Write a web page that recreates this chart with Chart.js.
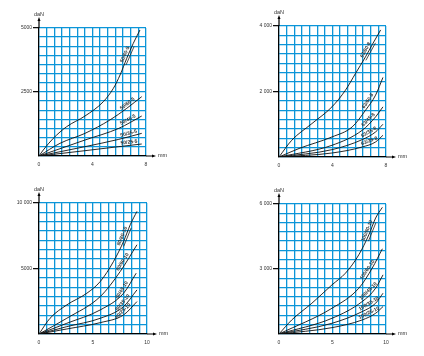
<!DOCTYPE html>
<html>
<head>
<meta charset="utf-8">
<script src="https://cdn.jsdelivr.net/npm/chart.js@4.4.0/dist/chart.umd.min.js"></script>
<style>
  body { margin: 0; background: #fff; width: 424px; height: 356px; overflow: hidden; position: relative; }
  canvas { position: absolute; }
</style>
</head>
<body>
<canvas id="c1" width="212" height="178" style="left:0;top:0"></canvas>
<canvas id="c2" width="212" height="178" style="left:212px;top:0"></canvas>
<canvas id="c3" width="212" height="178" style="left:0;top:178px"></canvas>
<canvas id="c4" width="212" height="178" style="left:212px;top:178px"></canvas>
<script>
// top-left panel (mm / daN)
const xTicks1 = ['0', '4', '8'];
const yTicks1 = ['2500', '5000'];
const labels1 = ['50/80-5', '50/60-5', '50/45-5', '50/35-5', '50/25-5'];
const tl1 = [[0,0],[0.32,234],[1.07,690],[2.07,1146],[3.44,1562],[4.81,2122],[5.56,2643],[6.06,3164],[6.56,3815],[7.05,4401],[7.55,4922]];
const tl2 = [[0,0],[1.57,495],[3.44,885],[5.3,1406],[6.56,1862],[7.68,2318]];
const tl3 = [[0,0],[3.44,625],[5.97,1081],[7.68,1562]];
const tl4 = [[0,0],[3.44,365],[5.97,651],[7.68,885]];
const tl5 = [[0,0],[3.44,208],[5.97,365],[7.68,469]];

// top-right panel
const xTicks2 = ['0', '4', '8'];
const yTicks2 = ['2 000', '4 000'];
const labels2 = ['63/80-8', '63/60-8', '63/45-8', '63/35-8', '63/25-8'];
const tr1 = [[0,0],[0.95,510],[2.46,1020],[3.96,1531],[4.97,2041],[5.72,2551],[6.47,3060],[6.97,3430],[7.6,3880]];
const tr2 = [[0,0],[1.5,260],[3.96,612],[5.47,918],[6.47,1429],[7.22,1888],[7.77,2429]];
const tr3 = [[0,0],[3.96,357],[6.22,816],[7.22,1224],[7.77,1531]];
const tr4 = [[0,0],[3.96,224],[6.22,531],[7.22,765],[7.77,1000]];
const tr5 = [[0,0],[3.96,122],[6.22,306],[7.22,459],[7.77,663]];

// bottom-left panel
const xTicks3 = ['0', '5', '10'];
const yTicks3 = ['5000', '10 000'];
const labels3 = ['80/80-10', '80/60-10', '80/45-10', '80/35-10', '80/25-10'];
const bl1 = [[0,0],[1.02,1199],[2.57,2219],[4.43,3112],[5.67,4005],[6.9,5536],[7.83,7066],[8.45,8342],[9.07,9362]];
const bl2 = [[0,0],[2.57,1199],[5.67,2857],[7.52,4770],[9.07,6811]];
const bl3 = [[0,0],[2.57,816],[5.67,1837],[7.83,3112],[9.0,4643]];
const bl4 = [[0,0],[2.57,561],[5.67,1199],[7.83,2092],[9.07,3367]];
const bl5 = [[0,0],[2.57,383],[5.67,867],[7.83,1454],[9.07,2474]];

// bottom-right panel
const xTicks4 = ['0', '5', '10'];
const yTicks4 = ['3 000', '6 000'];
const labels4 = ['100/80-10', '100/60-10', '100/45-10', '100/35-10', '100/25-10'];
const br1 = [[0,0],[1.19,648],[3.07,1419],[4.95,2267],[6.21,2807],[7.46,3656],[8.4,4581],[9.03,5352],[9.66,5846]];
const br2 = [[0,0],[4.95,1188],[7.46,2113],[8.71,3039],[9.66,3933]];
const br3 = [[0,0],[4.95,725],[7.77,1496],[9.03,2113],[9.72,2730]];
const br4 = [[0,0],[4.95,494],[7.77,1033],[9.03,1419],[9.72,1882]];
const br5 = [[0,0],[4.95,293],[7.77,648],[9.03,956],[9.72,1265]];

const GRID = '#0b95d8';
const DIV = 14;

// arrows, unit names and the curve labels
const decor = {
  id: 'decor',
  afterDraw(chart) {
    const { ctx, chartArea: a } = chart;
    ctx.save();
    ctx.strokeStyle = '#000';
    ctx.fillStyle = '#000';
    ctx.lineWidth = 1.2;
    ctx.beginPath();
    ctx.moveTo(a.left, a.top);
    ctx.lineTo(a.left, a.top - 8);
    ctx.moveTo(a.right, a.bottom);
    ctx.lineTo(a.right + 7, a.bottom);
    ctx.stroke();
    ctx.beginPath();
    ctx.moveTo(a.left, a.top - 11);
    ctx.lineTo(a.left - 1.5, a.top - 7);
    ctx.lineTo(a.left + 1.5, a.top - 7);
    ctx.fill();
    ctx.beginPath();
    ctx.moveTo(a.right + 10, a.bottom);
    ctx.lineTo(a.right + 6, a.bottom - 1.5);
    ctx.lineTo(a.right + 6, a.bottom + 1.5);
    ctx.fill();

    ctx.fillStyle = '#333';
    ctx.font = '5.5px Arial';
    ctx.textAlign = 'center';
    ctx.textBaseline = 'middle';
    ctx.fillText('daN', a.left, a.top - 14);
    ctx.textAlign = 'left';
    ctx.fillText('mm', a.right + 12, a.bottom - 1);

    const names = chart.options.plugins.decor.names;
    chart.data.datasets.forEach((ds, i) => {
      const pts = chart.getDatasetMeta(i).data;
      const d = ds.data;
      const t = d[d.length - 1].x * 0.88;
      let j = 0;
      while (j < d.length - 2 && d[j + 1].x < t) j++;
      const f = (t - d[j].x) / (d[j + 1].x - d[j].x);
      const p0 = pts[j], p1 = pts[j + 1];
      const px = p0.x + (p1.x - p0.x) * f;
      const py = p0.y + (p1.y - p0.y) * f;
      const ang = Math.atan2(p1.y - p0.y, p1.x - p0.x);
      const nx = Math.sin(ang), ny = -Math.cos(ang);
      ctx.save();
      ctx.translate(px + nx * 3.2, py + ny * 3.2);
      ctx.rotate(ang);
      ctx.font = 'bold 5px Arial';
      ctx.fillStyle = '#333';
      ctx.textAlign = 'center';
      ctx.textBaseline = 'middle';
      ctx.fillText(names[i], 0, 0);
      ctx.restore();
      if (i === 0) {
        ctx.save();
        ctx.translate(px - nx * 2, py - ny * 2);
        ctx.rotate(ang);
        ctx.strokeStyle = '#222';
        ctx.lineWidth = 0.7;
        ctx.beginPath();
        ctx.moveTo(-9, 0);
        ctx.lineTo(11, 0);
        ctx.stroke();
        ctx.restore();
      }
    });
    ctx.restore();
  }
};

function makePanel(id, curves, names, xMax, yMax, xTicks, yTicks, left, right, top, bottom) {
  const yLab = [7, 14];
  const xLab = [0, 7, 14];
  new Chart(document.getElementById(id), {
    type: 'line',
    data: {
      datasets: curves.map(c => ({
        data: c.map(p => ({ x: p[0], y: p[1] })),
        borderColor: '#111',
        borderWidth: 0.9,
        pointRadius: 0,
        cubicInterpolationMode: 'monotone',
        fill: false
      }))
    },
    options: {
      responsive: false,
      animation: false,
      devicePixelRatio: 1,
      layout: { padding: { left: 0, top: top, right: 212 - right, bottom: 0 } },
      plugins: { legend: { display: false }, tooltip: { enabled: false }, decor: { names: names } },
      scales: {
        x: {
          type: 'linear', min: 0, max: xMax,
          afterFit: s => { s.height = 178 - bottom; },
          afterBuildTicks: s => { s.ticks = Array.from({ length: DIV + 1 }, (_, i) => ({ value: i * xMax / DIV })); },
          grid: { color: GRID, lineWidth: 1.3, drawTicks: false },
          border: { color: '#000', width: 1.2 },
          ticks: {
            autoSkip: false, maxRotation: 0, padding: 6, color: '#333', font: { size: 5, family: 'Arial' },
            callback: (v, i) => xLab.includes(i) ? xTicks[xLab.indexOf(i)] : ''
          }
        },
        y: {
          type: 'linear', min: 0, max: yMax,
          afterFit: s => { s.width = left; },
          afterBuildTicks: s => { s.ticks = Array.from({ length: DIV + 1 }, (_, i) => ({ value: i * yMax / DIV })); },
          grid: {
            color: GRID, lineWidth: 1.3, tickLength: 6,
            tickColor: c => yLab.includes(c.index) ? '#000' : 'rgba(0,0,0,0)',
            tickWidth: 1.2
          },
          border: { color: '#000', width: 1.2 },
          ticks: {
            autoSkip: false, padding: 1, color: '#333', font: { size: 5, family: 'Arial' },
            callback: (v, i) => yLab.includes(i) ? yTicks[yLab.indexOf(i)] : ''
          }
        }
      }
    },
    plugins: [decor]
  });
}

makePanel('c1', [tl1, tl2, tl3, tl4, tl5], labels1, 8, 5000, xTicks1, yTicks1, 39, 146, 28, 156);
makePanel('c2', [tr1, tr2, tr3, tr4, tr5], labels2, 8, 4000, xTicks2, yTicks2, 67, 174, 26, 157);
makePanel('c3', [bl1, bl2, bl3, bl4, bl5], labels3, 10, 10000, xTicks3, yTicks3, 39, 147, 25, 156);
makePanel('c4', [br1, br2, br3, br4, br5], labels4, 10, 6000, xTicks4, yTicks4, 67, 174, 26, 156);
</script>
</body>
</html>
